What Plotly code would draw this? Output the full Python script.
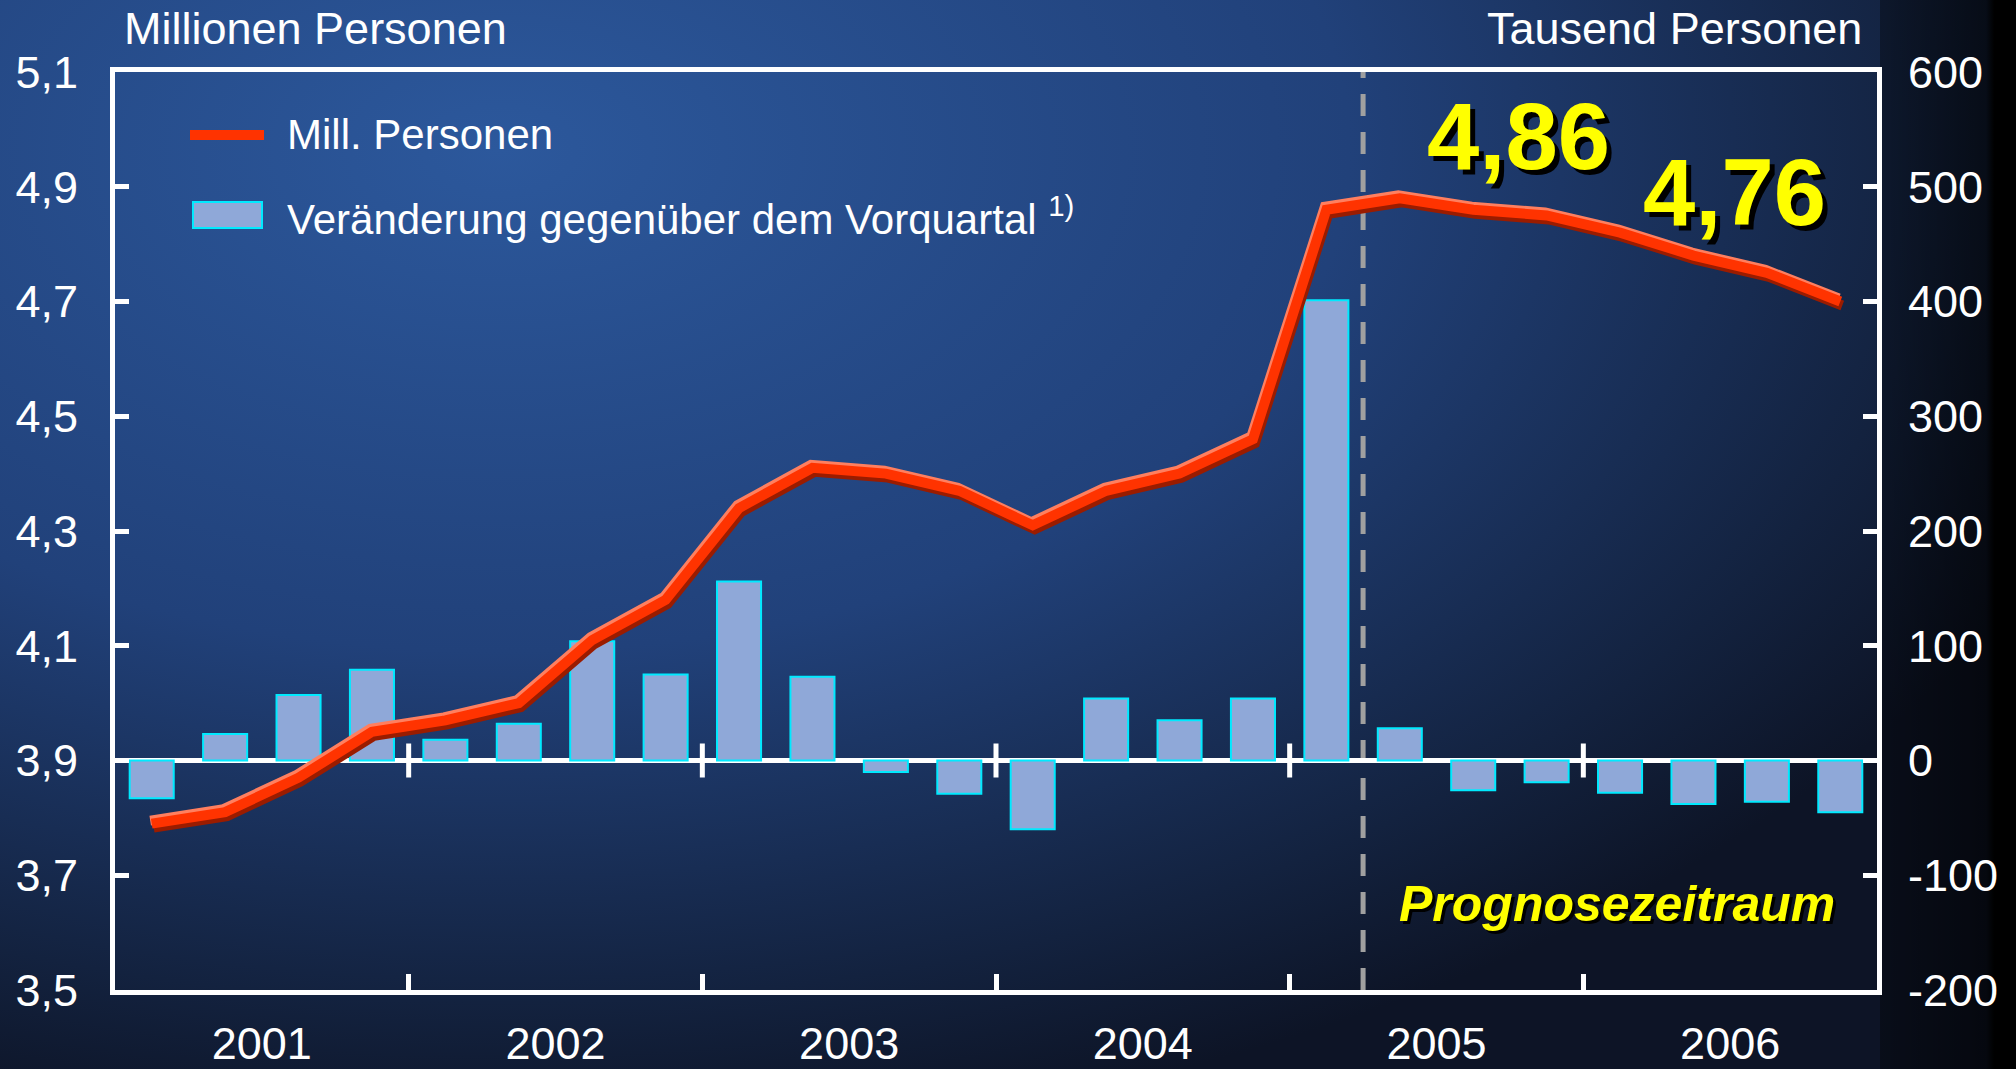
"""
Arbeitslose in Deutschland 2001-2006, Quartalswerte mit Prognose
Line (Mill. Personen, left axis) over bars (change vs. previous quarter, right axis)
"""

import base64
import plotly.graph_objects as go

# ---- data -----------------------------------------------------------------
years = ["2001", "2002", "2003", "2004", "2005", "2006"]

# unemployed persons, millions (quarterly, 2001 Q1 .. 2006 Q4)
persons_mill = [3.79, 3.81, 3.87, 3.95, 3.97, 4.00, 4.11, 4.18,
                4.34, 4.41, 4.40, 4.37, 4.31, 4.37, 4.40, 4.46,
                4.86, 4.88, 4.86, 4.85, 4.82, 4.78, 4.75, 4.70]

# change versus previous quarter, thousand persons
change_thousand = [-33, 23, 57, 79, 18, 32, 104, 75,
                   156, 73, -10, -29, -60, 54, 35, 54,
                   401, 28, -26, -19, -28, -38, -36, -45]

left_ticks = [3.5, 3.7, 3.9, 4.1, 4.3, 4.5, 4.7, 4.9, 5.1]
left_labels = ["3,5", "3,7", "3,9", "4,1", "4,3", "4,5", "4,7", "4,9", "5,1"]
right_ticks = [-200, -100, 0, 100, 200, 300, 400, 500, 600]
right_labels = ["-200", "-100", "0", "100", "200", "300", "400", "500", "600"]

annual_labels = ["4,86", "4,76"]   # yearly averages 2005 / 2006
forecast_first = 17                # first forecast quarter (2005 Q2)

# ---- geometry / style -----------------------------------------------------
W, H = 2016, 1069
L, R, T, B = 115, 139, 72, 79
PW, PH = W - L - R, H - T - B
FONT = "Liberation Sans, Arial, sans-serif"

xq = list(range(len(persons_mill)))
q_per_year = len(xq) // len(years)
year_centers = [i * q_per_year + (q_per_year - 1) / 2 for i in range(len(years))]
year_bounds = [i * q_per_year - 0.5 for i in range(1, len(years))]

# data units per pixel, used for the 3d edge of the red line
uy = (left_ticks[-1] - left_ticks[0]) / PH
ux = len(xq) / PW
u2 = (right_ticks[-1] - right_ticks[0]) / PH


def paper(px, py):
    return (px - L) / PW, (H - B - py) / PH


# background gradient as inline svg
svg = f'''<svg xmlns="http://www.w3.org/2000/svg" width="{W}" height="{H}" viewBox="0 0 {W} {H}" preserveAspectRatio="none">
<defs>
<radialGradient id="g" gradientUnits="userSpaceOnUse" cx="500" cy="150" r="1700"
 gradientTransform="translate(500 150) scale(1 0.59) translate(-500 -150)">
<stop offset="0" stop-color="#2c589c"/>
<stop offset="0.5" stop-color="#21417a"/>
<stop offset="0.85" stop-color="#13223f"/>
<stop offset="1" stop-color="#0d1426"/>
</radialGradient>
<linearGradient id="e" gradientUnits="userSpaceOnUse" x1="1880" y1="0" x2="{W}" y2="0">
<stop offset="0" stop-color="#000" stop-opacity="0.35"/>
<stop offset="0.78" stop-color="#000" stop-opacity="0.6"/>
<stop offset="0.84" stop-color="#000" stop-opacity="1"/>
<stop offset="1" stop-color="#000" stop-opacity="1"/>
</linearGradient>
</defs>
<rect width="{W}" height="{H}" fill="url(#g)"/>
<rect x="1880" width="{W - 1880}" height="{H}" fill="url(#e)"/>
</svg>'''
bg_src = "data:image/svg+xml;base64," + base64.b64encode(svg.encode()).decode()

fig = go.Figure()

# bars: change vs. previous quarter
fig.add_trace(go.Bar(
    x=xq, y=change_thousand, width=0.6, yaxis="y",
    marker=dict(color="#8fa8d8", line=dict(color="#00eaff", width=2)),
))

# red line with a light top edge and dark bottom edge
fig.add_trace(go.Scatter(
    x=[v + 2 * ux for v in xq], y=[v - 4 * uy for v in persons_mill],
    mode="lines", yaxis="y2", line=dict(color="#9a1c00", width=10),
))
fig.add_trace(go.Scatter(
    x=[v - 1.5 * ux for v in xq], y=[v + 3 * uy for v in persons_mill],
    mode="lines", yaxis="y2", line=dict(color="#ff7f5f", width=10),
))
fig.add_trace(go.Scatter(
    x=xq, y=persons_mill, mode="lines", yaxis="y2",
    line=dict(color="#ff3300", width=10),
))

shapes = []
# forecast boundary
shapes.append(dict(type="line", xref="x", yref="paper",
                   x0=forecast_first - 0.5, x1=forecast_first - 0.5, y0=0, y1=1,
                   line=dict(color="#a0a0a0", width=5, dash="22px,16px"), layer="below"))
# year ticks on the zero line
for b in year_bounds:
    shapes.append(dict(type="line", xref="x", yref="y", x0=b, x1=b,
                       y0=-17 * u2, y1=17 * u2,
                       line=dict(color="white", width=5), layer="below"))
# custom legend swatches
lx0, ly = paper(190, 135)
lx1, _ = paper(264, 135)
shapes.append(dict(type="line", xref="paper", yref="paper", x0=lx0, x1=lx1, y0=ly, y1=ly,
                   line=dict(color="#ff3300", width=10)))
rx0, ry1 = paper(193, 202)
rx1, ry0 = paper(262, 228)
shapes.append(dict(type="rect", xref="paper", yref="paper", x0=rx0, x1=rx1, y0=ry0, y1=ry1,
                   fillcolor="#8fa8d8", line=dict(color="#00eaff", width=2)))

annotations = []


def text(s, px, py, size, anchor="left", **font):
    x, y = paper(px, py)
    annotations.append(dict(text=s, x=x, y=y, xref="paper", yref="paper",
                            xanchor=anchor, yanchor="middle", showarrow=False,
                            font=dict(family=FONT, size=size, color=font.pop("color", "white"), **font)))


text("Millionen Personen", 122, 28, 45)
text("Tausend Personen", 1864, 28, 45, anchor="right")
text("Mill. Personen", 285, 135, 42)
text("Veränderung gegenüber dem Vorquartal <sup>1)</sup>", 285, 216, 42)
text(annual_labels[0], 1518, 136, 94, anchor="center", color="#ffff00",
     weight="bold", shadow="5px 5px 0px #000000")
text(annual_labels[1], 1734, 192, 94, anchor="center", color="#ffff00",
     weight="bold", shadow="5px 5px 0px #000000")
text("Prognosezeitraum", 1617, 904, 50, anchor="center", color="#ffff00",
     weight="bold", style="italic", shadow="3px 3px 0px #000000")

axis_common = dict(showgrid=False, showline=True, linecolor="white", linewidth=5,
                   tickcolor="white", tickwidth=5, tickfont=dict(family=FONT, size=45, color="white"),
                   automargin=False)

fig.update_layout(
    width=W, height=H,
    margin=dict(l=L, r=R, t=T, b=B, autoexpand=False),
    paper_bgcolor="#0d1426",
    plot_bgcolor="rgba(0,0,0,0)",
    showlegend=False,
    font=dict(family=FONT, color="white", size=45),
    xaxis=dict(
        range=[-0.5, len(xq) - 0.5], tickmode="array", tickvals=year_centers, ticktext=years,
        ticks="", mirror=True, zeroline=False, ticklabelstandoff=10,
        minor=dict(tickmode="array", tickvals=year_bounds, ticks="inside",
                   ticklen=16, tickwidth=5, tickcolor="white", showgrid=False),
        **axis_common,
    ),
    yaxis=dict(
        range=[right_ticks[0], right_ticks[-1]], side="right", anchor="x",
        tickmode="array", tickvals=right_ticks, ticktext=right_labels,
        ticks="inside", ticklen=14, ticklabelstandoff=17,
        zeroline=True, zerolinecolor="white", zerolinewidth=5,
        **axis_common,
    ),
    yaxis2=dict(
        range=[left_ticks[0], left_ticks[-1]], side="left", anchor="x", overlaying="y",
        tickmode="array", tickvals=left_ticks, ticktext=left_labels,
        ticks="inside", ticklen=14, ticklabelstandoff=23, zeroline=False,
        **axis_common,
    ),
    images=[dict(source=bg_src, xref="paper", yref="paper",
                 x=-L / PW, y=1 + T / PH, sizex=W / PW, sizey=H / PH,
                 xanchor="left", yanchor="top", sizing="stretch", layer="below")],
    shapes=shapes,
    annotations=annotations,
)

fig.write_html("out.html", config={"displayModeBar": False},
               post_script="document.body.style.margin='0';document.body.style.background='#000';")
